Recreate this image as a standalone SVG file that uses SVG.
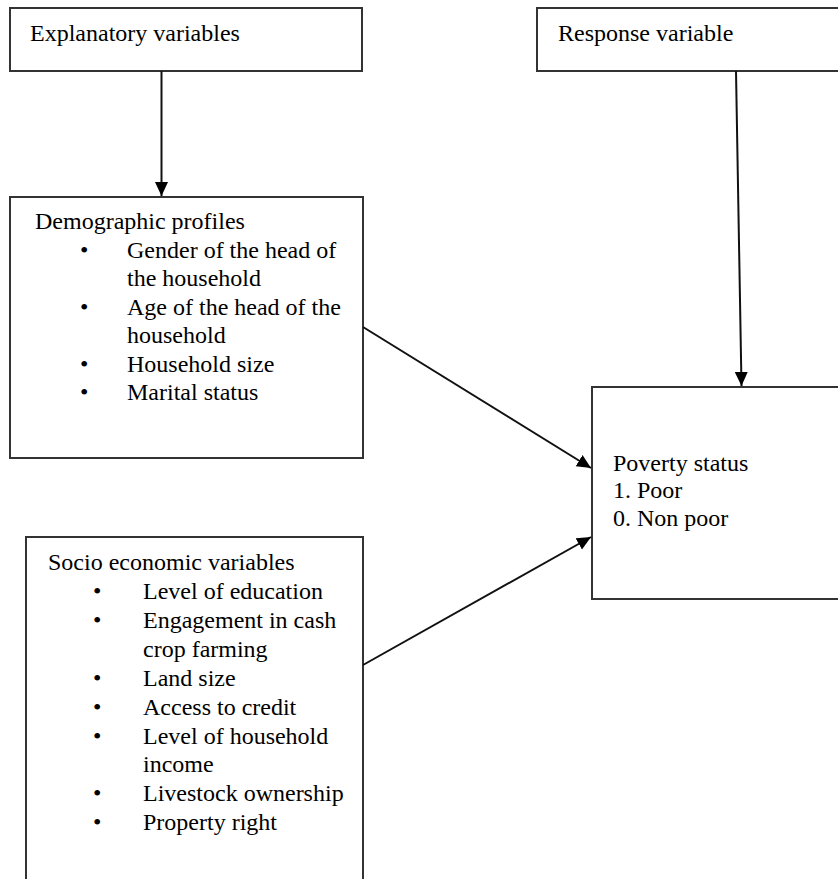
<svg xmlns="http://www.w3.org/2000/svg" width="838" height="879" viewBox="0 0 838 879">
<style>
.box{fill:#fff;stroke:#333;stroke-width:2}
.t{font-family:"Liberation Serif","Times New Roman",serif;font-size:24px;fill:#000}
.conn{stroke:#111;stroke-width:2;fill:none}
</style>
<defs>
<marker id="ah" markerUnits="userSpaceOnUse" markerWidth="15" markerHeight="14" refX="14" refY="7" orient="auto">
<path d="M0,0.5 L14,7 L0,13.5 z" fill="#000"/>
</marker>
</defs>
<rect width="838" height="879" fill="#fff"/>
<g id="explanatory">
<rect class="box" x="10" y="8" width="352" height="63"/>
<text class="t" x="30" y="41">Explanatory variables</text>
</g>
<g id="response">
<rect class="box" x="537" y="8" width="320" height="63"/>
<text class="t" x="558" y="41">Response variable</text>
</g>
<g id="demographic">
<rect class="box" x="10" y="197" width="353" height="261"/>
<text class="t" x="35" y="229">Demographic profiles</text>
<g class="t">
<text x="80" y="258">•</text><text x="127" y="258">Gender of the head of</text>
<text x="127" y="286">the household</text>
<text x="80" y="315">•</text><text x="127" y="315">Age of the head of the</text>
<text x="127" y="343">household</text>
<text x="80" y="372">•</text><text x="127" y="372">Household size</text>
<text x="80" y="400">•</text><text x="127" y="400">Marital status</text>
</g>
</g>
<g id="socio">
<rect class="box" x="26" y="537" width="337" height="360"/>
<text class="t" x="48" y="570">Socio economic variables</text>
<g class="t">
<text x="93" y="599">•</text><text x="143" y="599">Level of education</text>
<text x="93" y="628">•</text><text x="143" y="628">Engagement in cash</text>
<text x="143" y="657">crop farming</text>
<text x="93" y="686">•</text><text x="143" y="686">Land size</text>
<text x="93" y="715">•</text><text x="143" y="715">Access to credit</text>
<text x="93" y="744">•</text><text x="143" y="744">Level of household</text>
<text x="143" y="772">income</text>
<text x="93" y="801">•</text><text x="143" y="801">Livestock ownership</text>
<text x="93" y="830">•</text><text x="143" y="830">Property right</text>
</g>
</g>
<g id="poverty">
<rect class="box" x="592" y="387" width="270" height="212"/>
<text class="t" x="613" y="471">Poverty status</text>
<text class="t" x="613" y="498">1. Poor</text>
<text class="t" x="613" y="526">0. Non poor</text>
</g>
<g id="connectors">
<line class="conn" x1="161.5" y1="71" x2="161.5" y2="196" marker-end="url(#ah)"/>
<line class="conn" x1="736" y1="71" x2="741.5" y2="386" marker-end="url(#ah)"/>
<line class="conn" x1="363" y1="327" x2="591" y2="468" marker-end="url(#ah)"/>
<line class="conn" x1="363" y1="665" x2="591" y2="537" marker-end="url(#ah)"/>
</g>
</svg>
